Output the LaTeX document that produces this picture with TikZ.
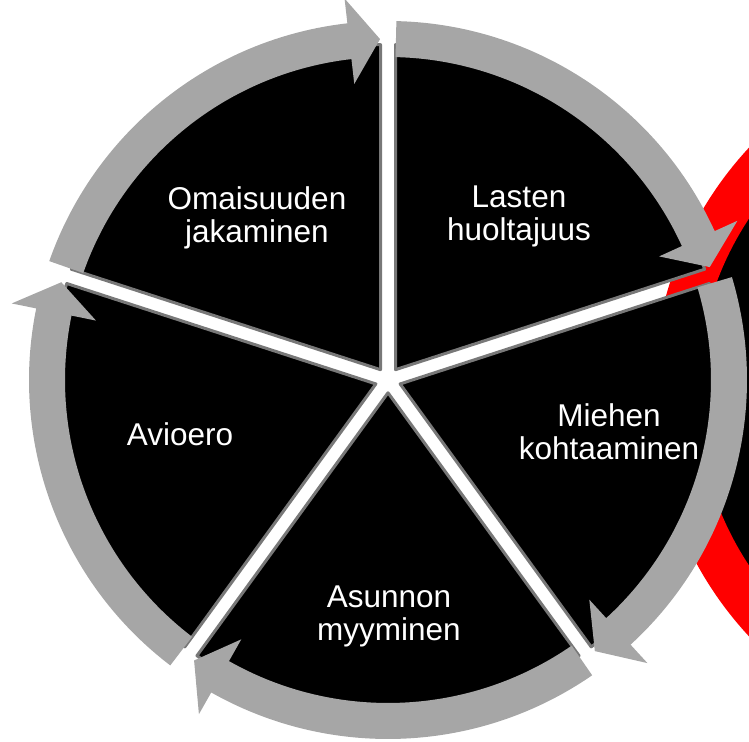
\documentclass[tikz,border=0pt]{standalone}
\usepackage{fontspec}
\setmainfont{Liberation Sans}
\usetikzlibrary{calc}
\definecolor{ringgray}{RGB}{166,166,166}
\definecolor{edgegray}{RGB}{120,120,120}
\definecolor{pured}{RGB}{255,0,0}
\newcommand\ringarrow[2]{%
  \pgfmathsetmacro\hbang{#2+6.5}%
  \pgfmathsetmacro\tipang{#2+1.34}%
  \fill[ringgray] ($(C)+(#1:359pt)$) arc[start angle=#1, end angle=\hbang, radius=359pt]
   -- ($(C)+(\hbang:384pt)$) -- ($(C)+(\tipang:341pt)$) -- ($(C)+(\hbang:298pt)$)
   -- ($(C)+(\hbang:323pt)$) arc[start angle=\hbang, end angle=#1, radius=323pt] -- cycle;}
\begin{document}
\begin{tikzpicture}[x=1pt,y=1pt,
  wedge/.style={fill=black, draw=edgegray, line width=3pt, line join=round},
  lbl/.style={text=white, align=center, font=\fontsize{31.5}{33}\selectfont, inner sep=0pt}]
\useasboundingbox (0,0) rectangle (749,741);
\clip (0,0) rectangle (749,741);
\coordinate (C) at (388,361);
\coordinate (R) at (1012,349);
% second (cut-off) circle on the right
\fill[black] (R) circle[radius=337pt];
\draw[pured, line width=44pt] (R) circle[radius=337pt];
% exploded sectors
\foreach \a in {18,90,162,234,306} {
  \pgfmathsetmacro\bis{\a+36}
  \path[wedge] ($(C)+(\bis:12.76pt)$) -- ++(\a:325pt) arc[start angle=\a, end angle=\a+72, radius=325pt] -- cycle;
}
% circular arrows
\ringarrow{160.66}{90}
\ringarrow{88.66}{18}
\ringarrow{16.66}{-54}
\ringarrow{-55.34}{-126}
\ringarrow{-127.34}{-198}
% labels
\node[lbl] (omaisuus) at (257,523) {Omaisuuden\\jakaminen};
\node[lbl] (lasten) at (519,525) {Lasten\\huoltajuus};
\node[lbl] (miehen) at (609,309) {Miehen\\kohtaaminen};
\node[lbl] (asunnon) at (389,125) {Asunnon\\myyminen};
\node[lbl] (avioero) at (180,307) {Avioero};
\end{tikzpicture}
\end{document}
